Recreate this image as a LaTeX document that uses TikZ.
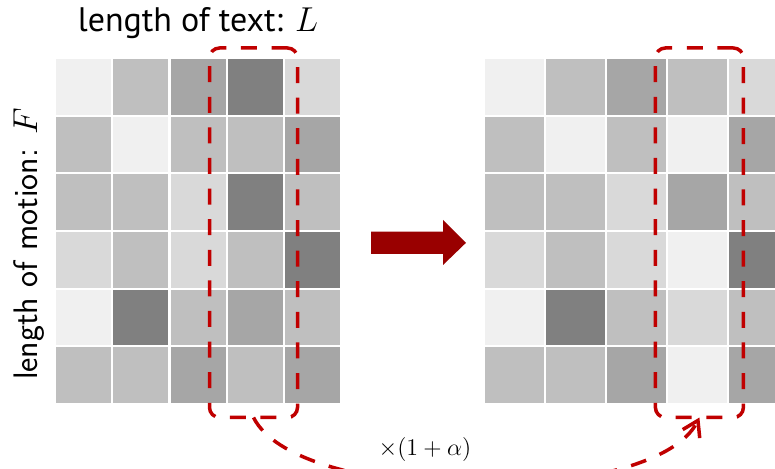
\documentclass[tikz,border=0pt]{standalone}
\usepackage{fontspec}
\newfontfamily\toplabelfont{PT Sans}
\usetikzlibrary{arrows.meta,calc}
\definecolor{selred}{RGB}{192,0,0}
\definecolor{arrred}{RGB}{153,0,0}
\tikzset{
  sel/.style={draw=selred, line width=1.75pt, rounded corners=5pt,
    dash pattern=on 8pt off 7.3pt, inner sep=0pt, outer sep=0pt},
  scalearr/.style={draw=selred, line width=1.75pt, dash pattern=on 8pt off 7.3pt,
    -{Straight Barb[length=7.5pt,width=9.5pt,line width=1.75pt]}},
  bigarr/.style={fill=arrred},
  lbl/.style={inner sep=0pt, font=\fontsize{17}{20}\selectfont},
  factor/.style={inner sep=0pt, font=\fontsize{12.5}{15}\selectfont}
}
\begin{document}
\begin{tikzpicture}[x=0.5pt,y=-0.5pt]
\useasboundingbox (0,0) rectangle (775,469);
\clip (0,0) rectangle (775,469);
% left grid
\foreach \row [count=\r from 0] in {{6,25,35,50,15},{25,6,25,25,35},{25,25,15,50,25},{15,25,15,25,50},{6,50,25,35,25},{25,25,35,25,35}}{
  \foreach \v [count=\c from 0] in \row {
    \fill[black!\v] (56+57.25*\c,59+57.7*\r) rectangle ++(55.2,55.7);
  }
}
% right grid
\foreach \row [count=\r from 0] in {{6,25,35,25,15},{25,6,25,6,35},{25,25,15,35,25},{15,25,15,6,50},{6,50,25,15,25},{25,25,35,6,35}}{
  \foreach \v [count=\c from 0] in \row {
    \fill[black!\v] (485+61*\c,59+57.7*\r) rectangle ++(58.7,55.7);
  }
}
% selections
\node[sel, minimum width=44pt, minimum height=184.75pt] (selL) at (253.5,232.75) {};
\node[sel, minimum width=44pt, minimum height=184.75pt] (selR) at (699.4,232.75) {};
% big arrow
\fill[bigarr] (371,231.7) -- (443,231.7) -- (443,220) -- (466,242.8) -- (443,265) -- (443,254) -- (371,254) -- cycle;
% scaling arrow
\draw[scalearr] (selL.south) .. controls ($(selL.south)+(45,90)$) and ($(selR.south)+(-45,90)$) .. (selR.south);
\node[factor] (fac) at (425,449) {$\times(1+\alpha)$};
% labels
\node[lbl, anchor=base] (toplab) at (198,32) {\toplabelfont length of text: $L$};
\node[lbl, rotate=90, anchor=base] (sidelab) at (37,244) {\sffamily length of motion: $F$};
\end{tikzpicture}
\end{document}
